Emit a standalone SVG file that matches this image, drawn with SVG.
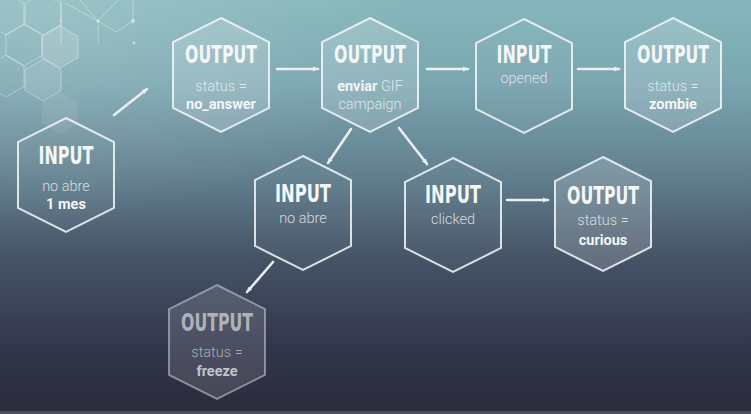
<svg xmlns="http://www.w3.org/2000/svg" width="751" height="414" viewBox="0 0 751 414">
<defs>
<linearGradient id="bg" x1="0" y1="0" x2="0" y2="1">
<stop offset="0" stop-color="#86b7bc"/>
<stop offset="0.2" stop-color="#7aa6b0"/>
<stop offset="0.42" stop-color="#62808f"/>
<stop offset="0.62" stop-color="#465467"/>
<stop offset="0.85" stop-color="#31354a"/>
<stop offset="1" stop-color="#2a2c3c"/>
</linearGradient>
<radialGradient id="hl" cx="0.05" cy="0.05" r="0.5">
<stop offset="0" stop-color="#ffffff" stop-opacity="0.18"/>
<stop offset="1" stop-color="#ffffff" stop-opacity="0"/>
</radialGradient>
<path id="hex" d="M0,-57 L48,-33 L48,33 L0,57 L-48,33 L-48,-33 Z"/>
<path id="dhex" d="M0,-21 L18,-10.5 L18,10.5 L0,21 L-18,10.5 L-18,-10.5 Z"/>
<marker id="ah" viewBox="0 0 6 6" refX="5" refY="3" markerWidth="6" markerHeight="6" markerUnits="userSpaceOnUse" orient="auto">
<path d="M0,0.6 L6,3 L0,5.4 Z" fill="#e9eef0"/>
</marker>
</defs>
<style>
.in{fill:rgba(255,255,255,0.03);stroke:rgba(245,248,250,0.85);stroke-width:2}
.out{fill:rgba(255,255,255,0.17);stroke:rgba(245,248,250,0.85);stroke-width:2}
.dim{fill:rgba(255,255,255,0.12);stroke:rgba(205,208,218,0.55);stroke-width:2}
.t{font-family:"DejaVu Sans Condensed","DejaVu Sans",sans-serif;font-weight:bold;font-size:24px;fill:#f4f6f7;text-anchor:middle}
.l{font-family:Roboto,"Liberation Sans",sans-serif;font-weight:300;font-size:14.5px;fill:rgba(240,244,246,0.82);text-anchor:middle}
.b{font-family:Roboto,"Liberation Sans",sans-serif;font-weight:bold;font-size:14.5px;fill:#f4f6f7;text-anchor:middle}
.dt{fill:#b0b2ba}
.dl{fill:rgba(190,193,202,0.85)}
.db{fill:#c2c4cb}
.c{stroke:#e9eef0;stroke-width:2.6;fill:none;stroke-linecap:round;marker-end:url(#ah)}
.dc{fill:none;stroke:rgba(255,255,255,0.35);stroke-width:1}
</style>
<rect width="751" height="414" fill="url(#bg)"/>
<rect width="751" height="414" fill="url(#hl)"/>
<rect y="411" width="751" height="3" fill="#4a4c58"/>
<g id="decor">
<use href="#dhex" x="60" y="47" fill="rgba(255,255,255,0.14)" stroke="rgba(255,255,255,0.35)"/>
<use href="#dhex" x="43" y="80" fill="rgba(255,255,255,0.1)" stroke="rgba(255,255,255,0.35)"/>
<use href="#dhex" x="60" y="113" fill="rgba(255,255,255,0.08)" stroke="none"/>
<use href="#dhex" x="24" y="45" class="dc"/>
<use href="#dhex" x="43" y="14" class="dc"/>
<use href="#dhex" x="6" y="14" class="dc"/>
<use href="#dhex" x="6" y="76" class="dc"/>
<path class="dc" d="M61,0 L61,43 M65,3 L98,21 L116,32 L133,21 L133,0 M98,21 L98,43 M98,21 L118,0 M80,0 L98,21"/>
<circle cx="98" cy="21" r="1.5" fill="rgba(255,255,255,0.5)"/>
<circle cx="133" cy="21" r="2" fill="rgba(255,255,255,0.5)"/>
<circle cx="134" cy="43" r="1.5" fill="rgba(255,255,255,0.5)"/>
<circle cx="61" cy="21" r="1.2" fill="rgba(255,255,255,0.4)"/>
</g>
<g id="connectors">
<line class="c" x1="114" y1="115" x2="147" y2="89"/>
<line class="c" x1="277" y1="69" x2="318" y2="69"/>
<line class="c" x1="427" y1="69" x2="468" y2="69"/>
<line class="c" x1="578" y1="69" x2="619" y2="69"/>
<line class="c" x1="351" y1="129" x2="328" y2="163"/>
<line class="c" x1="399" y1="128" x2="427" y2="164"/>
<line class="c" x1="507" y1="200" x2="548" y2="200"/>
<line class="c" x1="273" y1="262" x2="247" y2="292"/>
</g>
<g id="n_input_1mes">
<use href="#hex" x="66" y="175" class="in"/>
<text class="t" x="66" y="164" textLength="55" lengthAdjust="spacingAndGlyphs">INPUT</text>
<text class="l" x="66" y="191">no abre</text>
<text class="b" x="66" y="209">1 mes</text>
</g>
<g id="n_output_no_answer">
<use href="#hex" x="221" y="75" class="out"/>
<text class="t" x="221" y="63" textLength="72" lengthAdjust="spacingAndGlyphs">OUTPUT</text>
<text class="l" x="221" y="91">status =</text>
<text class="b" x="221" y="109">no_answer</text>
</g>
<g id="n_output_enviar">
<use href="#hex" x="370" y="75" class="out"/>
<text class="t" x="370" y="63" textLength="72" lengthAdjust="spacingAndGlyphs">OUTPUT</text>
<text class="l" x="370" y="91"><tspan class="b">enviar</tspan> GIF</text>
<text class="l" x="370" y="109">campaign</text>
</g>
<g id="n_input_opened">
<use href="#hex" x="524" y="76" class="in"/>
<text class="t" x="524" y="63" textLength="55" lengthAdjust="spacingAndGlyphs">INPUT</text>
<text class="l" x="524" y="83">opened</text>
</g>
<g id="n_output_zombie">
<use href="#hex" x="673" y="75" class="out"/>
<text class="t" x="673" y="63" textLength="72" lengthAdjust="spacingAndGlyphs">OUTPUT</text>
<text class="l" x="673" y="91">status =</text>
<text class="b" x="673" y="109">zombie</text>
</g>
<g id="n_input_no_abre">
<use href="#hex" x="303" y="213" class="in"/>
<text class="t" x="303" y="202" textLength="56" lengthAdjust="spacingAndGlyphs">INPUT</text>
<text class="l" x="303" y="223">no abre</text>
</g>
<g id="n_input_clicked">
<use href="#hex" x="453" y="215" class="in"/>
<text class="t" x="453" y="203" textLength="56" lengthAdjust="spacingAndGlyphs">INPUT</text>
<text class="l" x="453" y="224">clicked</text>
</g>
<g id="n_output_curious">
<use href="#hex" x="603" y="214" class="out"/>
<text class="t" x="603" y="204" textLength="72" lengthAdjust="spacingAndGlyphs">OUTPUT</text>
<text class="l" x="603" y="225">status =</text>
<text class="b" x="603" y="245">curious</text>
</g>
<g id="n_output_freeze">
<use href="#hex" x="217" y="342" class="dim"/>
<text class="t dt" x="217" y="331" textLength="72" lengthAdjust="spacingAndGlyphs">OUTPUT</text>
<text class="l dl" x="217" y="357">status =</text>
<text class="b db" x="217" y="376">freeze</text>
</g>
</svg>
